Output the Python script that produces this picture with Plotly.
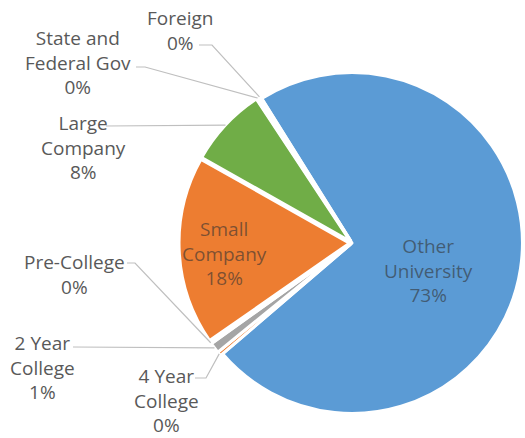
import math
import plotly.graph_objects as go

# Sector breakdown (counts); percentages are derived from these
labels = ["Other University", "4 Year College", "2 Year College", "Pre-College",
          "Small Company", "Large Company", "State and Federal Gov", "Foreign"]
counts = [366, 2, 5, 1, 90, 38, 1, 1]
display_names = ["Other<br>University", "4 Year<br>College", "2 Year<br>College",
                 "Pre-College", "Small<br>Company", "Large<br>Company",
                 "State and<br>Federal Gov", "Foreign"]
colors = ["#5B9BD5", "#ED7D31", "#A5A5A5", "#FFC000",
          "#ED7D31", "#70AD47", "#4472C4", "#264478"]
pulls = [0, 0.015, 0.015, 0.015, 0.015, 0.015, 0.015, 0.015]

W, H = 525, 438
ROTATION = -32
DOM_X = [0.341, 1.0]
DOM_Y = [0.0502, 0.8402]

# label centres (px) and leader-line anchor points (px) for each slice
label_pos = {
    "Other University": (428, 270),
    "Small Company": (224, 253),
    "Large Company": (83, 147),
    "State and Federal Gov": (78, 62),
    "Foreign": (180, 30),
    "Pre-College": (74, 274),
    "2 Year College": (42, 367),
    "4 Year College": (166, 400),
}
inside = {"Other University", "Small Company"}
leader_from = {
    "Foreign": [(199, 45), (212, 45)],
    "State and Federal Gov": [(136, 67), (145, 67)],
    "Large Company": [(106, 126)],
    "Pre-College": [(127, 263), (135, 263)],
    "2 Year College": [(73, 347)],
    "4 Year College": [(195, 378), (206, 378)],
}

total = sum(counts)
pcts = [round(100 * c / total) for c in counts]

# pie geometry as plotly lays it out
box_w = W * (DOM_X[1] - DOM_X[0])
box_h = H * (DOM_Y[1] - DOM_Y[0])
r = min(box_w, box_h) / (2 * (1 + max(pulls)))
cx = W * (DOM_X[0] + DOM_X[1]) / 2
cy = H * (1 - (DOM_Y[0] + DOM_Y[1]) / 2)

edge_pts = {}
ang = ROTATION
for lab, c, p in zip(labels, counts, pulls):
    span = 360 * c / total
    mid = math.radians(ang + span / 2)
    pcx = cx + p * r * math.sin(mid)
    pcy = cy - p * r * math.cos(mid)
    edge_pts[lab] = (pcx + r * math.sin(mid), pcy - r * math.cos(mid))
    ang += span


def to_paper(pt):
    return pt[0] / W, 1 - pt[1] / H


fig = go.Figure(go.Pie(
    labels=labels,
    values=counts,
    sort=False,
    direction="clockwise",
    rotation=ROTATION,
    pull=pulls,
    marker=dict(colors=colors, line=dict(color="white", width=3)),
    textinfo="none",
    hoverinfo="label+percent",
    domain=dict(x=DOM_X, y=DOM_Y),
    showlegend=False,
))

annotations = []
for lab, name, pct in zip(labels, display_names, pcts):
    x, y = to_paper(label_pos[lab])
    color = "rgba(50,50,50,0.6)" if lab in inside else "#595959"
    annotations.append(dict(
        x=x, y=y, xref="paper", yref="paper",
        text=f"{name}<br>{pct}%", showarrow=False,
        xanchor="center", yanchor="middle", align="center",
        font=dict(family="Open Sans", size=19, color=color),
    ))

shapes = []
for lab, pts in leader_from.items():
    route = pts + [edge_pts[lab]]
    path = "M " + " L ".join(f"{to_paper(p)[0]:.5f},{to_paper(p)[1]:.5f}" for p in route)
    shapes.append(dict(type="path", path=path, xref="paper", yref="paper",
                       line=dict(color="#BFBFBF", width=1.2)))

fig.update_layout(
    width=W, height=H,
    margin=dict(l=0, r=0, t=0, b=0),
    paper_bgcolor="white",
    plot_bgcolor="white",
    annotations=annotations,
    shapes=shapes,
)

fig.write_html("out.html")
